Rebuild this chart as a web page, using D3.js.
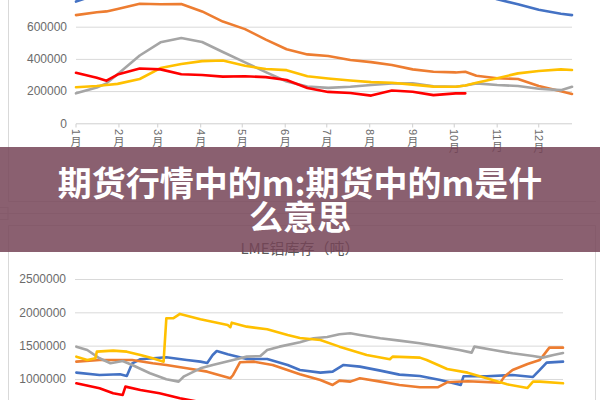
<!DOCTYPE html>
<html><head><meta charset="utf-8">
<script src="https://cdn.jsdelivr.net/npm/d3@7/dist/d3.min.js"></script>
<style>html,body{margin:0;padding:0;background:#fff;overflow:hidden}svg{display:block}</style>
</head><body>
<svg id="c" width="600" height="400"></svg>
<script>
// ---------- data ----------
const monthDays   = [0,31,59,90,120,151,181,212,243,273,304,334];
const monthLabels = ["1月","2月","3月","4月","5月","6月","7月","8月","9月","10月","11月","12月"];
const topTicks    = [0,200000,400000,600000];
const alTicks     = [1000000,1500000,2000000,2500000];

// top chart (daily axis, sampled)
const topDays   = [0,15,22,30,46,61,76,91,106,122,137,152,167,182,198,213,228,243,258,274,281,289,304,319,334,350,358];
const topBlue   = [756,800,820,840,870,890,900,900,900,900,890,880,870,860,850,840,830,820,815,810,820,820,770,740,705,680,672];
const topOrange = [672,690,695,710,743,739,741,695,632,585,520,460,428,418,393,380,362,335,320,316,320,295,280,275,232,199,182];
const topGray   = [186,222,248,305,421,503,530,505,443,378,318,260,229,220,227,238,247,248,230,227,235,248,238,232,215,206,227];
const topYellow = [224,232,238,245,275,343,368,386,390,357,337,330,292,278,266,256,252,240,228,227,235,252,280,310,325,335,331];
const topRed    = [314,283,265,303,340,335,305,300,290,292,287,269,219,195,188,172,204,196,175,186,186,null,null,null,null,null,null];

// bottom chart: LME aluminium stocks, [day, thousand tonnes]
const alBlue = [[1,1095],[18,1060],[33,1070],[38,1045],[42,1235],[48,1296],[67,1325],[82,1285],[92,1260],[97,1240],[101,1360],[104,1420],[112,1370],[126,1300],[141,1300],[156,1210],[165,1135],[180,1095],[189,1110],[197,1210],[209,1185],[224,1125],[238,1065],[253,1045],[268,985],[283,910],[285,1040],[302,1040],[321,1060],[336,1030],[341,1135],[346,1245],[358,1260]];
const alOrange = [[1,1260],[18,1285],[42,1285],[57,1235],[67,1210],[82,1160],[97,1110],[114,1010],[116,1060],[121,1250],[131,1260],[145,1210],[165,1070],[180,985],[189,910],[194,975],[202,960],[209,1010],[224,960],[238,910],[253,875],[266,875],[273,950],[288,965],[312,945],[315,1035],[321,1135],[332,1225],[341,1285],[348,1470],[358,1470]];
const alGray = [[1,1485],[9,1435],[18,1310],[26,1235],[35,1270],[42,1210],[55,1085],[67,995],[76,960],[80,1040],[92,1160],[101,1210],[116,1285],[126,1335],[136,1345],[141,1435],[150,1485],[165,1550],[175,1610],[185,1630],[194,1670],[202,1686],[209,1660],[224,1610],[238,1575],[253,1536],[268,1485],[282,1435],[291,1395],[293,1485],[307,1435],[321,1385],[336,1345],[343,1320],[351,1360],[358,1390]];
const alYellow = [[1,1335],[9,1285],[15,1310],[16,1410],[28,1425],[38,1410],[48,1360],[57,1310],[65,1260],[67,1910],[72,1910],[77,1976],[82,1950],[92,1896],[112,1810],[114,1776],[115,1845],[126,1785],[141,1746],[156,1660],[165,1615],[180,1585],[194,1485],[214,1360],[231,1296],[233,1335],[253,1320],[258,1285],[273,1150],[288,1095],[302,1010],[317,920],[332,865],[336,960],[341,960],[358,935]];
const alRed = [[1,935],[18,860],[28,785],[35,760],[37,885],[48,835],[62,785],[77,710],[90,660],[110,620],[150,580],[200,540],[250,500]];

const seriesColors = ["#4472C4","#ED7D31","#A5A5A5","#FFC000","#FF0000"];
const bannerLines = ["期货行情中的m:期货中的m是什","么意思"];
const bottomTitle = "LME铝库存（吨）";

// ---------- drawing ----------
const svg = d3.select("#c");
const labelFont = "'Liberation Sans','Noto Sans CJK SC',sans-serif";
const gridCol = "#d9d9d9";

// frames
const frame = svg.append("g").attr("fill","none").attr("stroke",gridCol).attr("stroke-width",1);
frame.append("path").attr("d","M8.5,0V201.5H596");
frame.append("path").attr("d","M0,213.5H600");
frame.append("rect").attr("x",-1).attr("y",207.5).attr("width",9).attr("height",12);
frame.append("path").attr("d","M8.5,400V225.5H595.5V400");

// ---- top chart ----
const xT = d3.scaleLinear().domain([0,358]).range([76,572]);
const yT = d3.scaleLinear().domain([0,800000]).range([123.3,-5.5]);

const gT = svg.append("g");
gT.append("g").attr("transform","translate(76,0)")
  .call(d3.axisLeft(yT).tickValues(topTicks.slice(1)).tickSize(-496).tickFormat(""))
  .call(g=>g.select(".domain").remove())
  .call(g=>g.selectAll("line").attr("stroke",gridCol));
gT.selectAll("text.yl").data(topTicks).join("text")
  .attr("x",67).attr("y",d=>yT(d)).attr("dy","0.35em")
  .attr("text-anchor","end").attr("font-family",labelFont).attr("font-size",12).attr("fill","#6b6b6b")
  .text(d=>d);
// x axis
gT.append("line").attr("x1",76).attr("x2",572).attr("y1",123.8).attr("y2",123.8).attr("stroke","#cfcfcf");
gT.selectAll("line.tk").data(monthDays).join("line")
  .attr("x1",d=>xT(d)).attr("x2",d=>xT(d)).attr("y1",123.8).attr("y2",127.5).attr("stroke","#cfcfcf");
monthDays.forEach((d,i)=>{
  const x = xT(d), num = monthLabels[i].replace("月","");
  const t = gT.append("text").attr("transform",`translate(${x},129) rotate(90)`)
    .attr("dominant-baseline","central").attr("font-family",labelFont).attr("font-size",11).attr("fill","#6b6b6b").text(num);
  const L = t.node().getComputedTextLength();
  gT.append("text").attr("x",x).attr("y",129+L+1+10).attr("text-anchor","middle")
    .attr("font-family","'Noto Sans CJK SC',sans-serif").attr("font-size",11).attr("fill","#6b6b6b").text("月");
});
const topSeries = [topBlue,topOrange,topGray,topYellow,topRed];
const lineT = d3.line().defined(d=>d[1]!=null).x(d=>xT(d[0])).y(d=>yT(d[1]*1000));
topSeries.forEach((s,i)=>{
  gT.append("path").datum(topDays.map((d,j)=>[d,s[j]]))
    .attr("d",lineT).attr("fill","none").attr("stroke",seriesColors[i])
    .attr("stroke-width",2.6).attr("stroke-linejoin","round").attr("stroke-linecap","round");
});

// ---- bottom chart ----
const xB = d3.scaleLinear().domain([0,358]).range([75,563]);
const yB = d3.scaleLinear().domain([0,2500000]).range([445.6,279]);
const gB = svg.append("g");
gB.append("text").attr("x",300).attr("y",249).attr("dy","0.35em").attr("text-anchor","middle")
  .attr("font-family","'Noto Sans CJK SC',sans-serif").attr("font-size",15).attr("fill","#595959").text(bottomTitle);
gB.append("g").attr("transform","translate(75,0)")
  .call(d3.axisLeft(yB).tickValues(alTicks).tickSize(-488).tickFormat(""))
  .call(g=>g.select(".domain").remove())
  .call(g=>g.selectAll("line").attr("stroke",gridCol));
gB.selectAll("text.yl").data(alTicks).join("text")
  .attr("x",66).attr("y",d=>yB(d)).attr("dy","0.35em")
  .attr("text-anchor","end").attr("font-family",labelFont).attr("font-size",12).attr("fill","#6b6b6b")
  .text(d=>d);
const lineB = d3.line().x(d=>xB(d[0])).y(d=>yB(d[1]*1000));
[alBlue,alOrange,alGray,alYellow,alRed].forEach((s,i)=>{
  gB.append("path").datum(s).attr("d",lineB).attr("fill","none").attr("stroke",seriesColors[i])
    .attr("stroke-width",2.6).attr("stroke-linejoin","round").attr("stroke-linecap","round");
});

// ---- banner overlay ----
svg.append("rect").attr("x",0).attr("y",147).attr("width",600).attr("height",105).attr("fill","rgba(117,68,87,0.85)");
svg.selectAll("text.ban").data(bannerLines).join("text")
  .attr("x",300).attr("y",(d,i)=>181+i*34).attr("dominant-baseline","central").attr("text-anchor","middle")
  .attr("font-family","'Noto Sans CJK SC',sans-serif").attr("font-weight",700).attr("font-size",34).attr("fill","#fff")
  .text(d=>d);
</script>
</body></html>
